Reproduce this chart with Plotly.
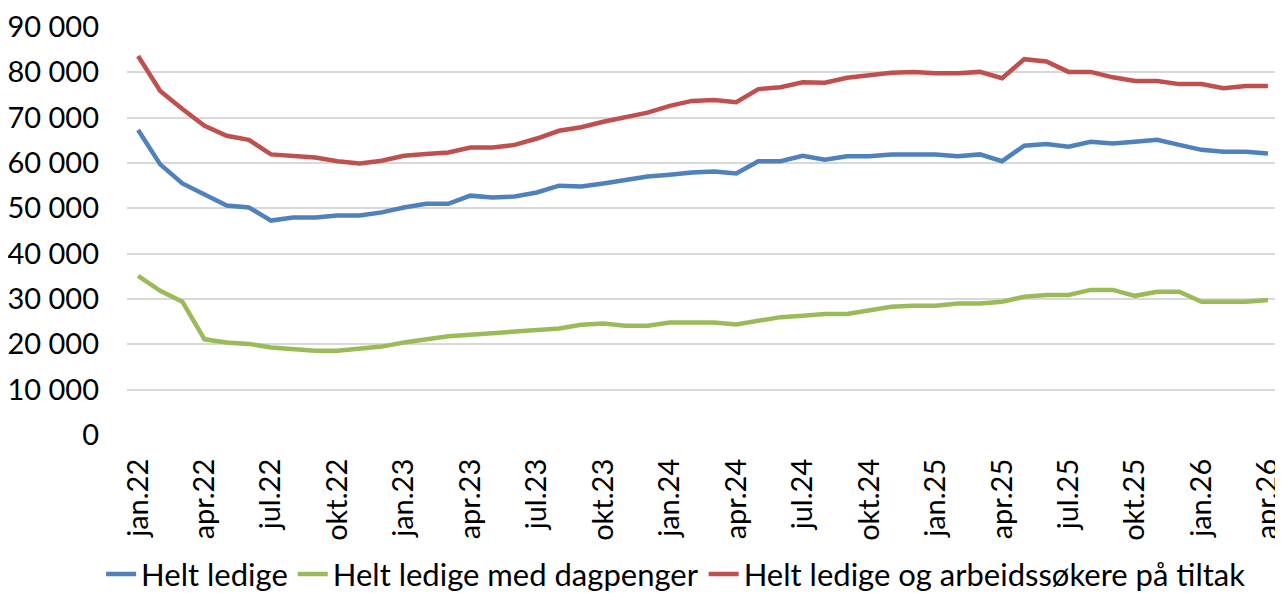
import plotly.graph_objects as go

month_abbr = ["jan", "feb", "mar", "apr", "mai", "jun", "jul", "aug", "sep", "okt", "nov", "des"]
months = [f"{month_abbr[m]}.{y:02d}" for y in range(22, 27) for m in range(12)][:52]

helt_ledige = [
    67300, 59700, 55500, 53100, 50600, 50200, 47300, 48000, 48000, 48400,
    48400, 49100, 50200, 51000, 51000, 52800, 52400, 52600, 53500, 55000,
    54800, 55500, 56300, 57000, 57400, 57900, 58100, 57700, 60400, 60400,
    61600, 60700, 61500, 61500, 61900, 61900, 61900, 61500, 61900, 60400,
    63800, 64200, 63600, 64700, 64300, 64700, 65100, 64000, 62900, 62500,
    62500, 62100,
]
dagpenger = [
    35100, 31800, 29400, 21100, 20400, 20100, 19300, 19000, 18600, 18600,
    19100, 19500, 20400, 21100, 21800, 22100, 22400, 22800, 23200, 23500,
    24300, 24600, 24100, 24100, 24800, 24800, 24800, 24400, 25200, 26000,
    26300, 26700, 26700, 27600, 28300, 28500, 28500, 29000, 29000, 29400,
    30500, 30900, 30900, 32000, 32000, 30700, 31600, 31600, 29400, 29400,
    29400, 29800,
]
tiltak = [
    83600, 75900, 71900, 68200, 66000, 65100, 61900, 61500, 61200, 60400,
    59900, 60500, 61600, 62000, 62300, 63400, 63400, 64000, 65400, 67100,
    67900, 69100, 70200, 71100, 72600, 73700, 73900, 73400, 76300, 76700,
    77800, 77700, 78800, 79300, 79900, 80100, 79800, 79800, 80100, 78700,
    82900, 82400, 80100, 80100, 78900, 78100, 78100, 77400, 77400, 76500,
    77000, 77000,
]

series_names = ["Helt ledige", "Helt ledige med dagpenger", "Helt ledige og arbeidssøkere på tiltak"]
series_colors = ["#4F81BD", "#9BBB59", "#C0504D"]

y_ticks = list(range(0, 90001, 10000))
y_labels = [f"{v:,}".replace(",", " ") for v in y_ticks]
x_ticks = months[::3]

FONT = "Lato"

fig = go.Figure()
for name, vals, col in zip(series_names, [helt_ledige, dagpenger, tiltak], series_colors):
    fig.add_trace(go.Scatter(
        x=months, y=vals, name=name, mode="lines",
        line=dict(color=col, width=4.5),
    ))

# page body has an 8px margin, so the figure is drawn 8px smaller
fig.update_layout(
    width=1275, height=585,
    margin=dict(l=119, r=4, t=19, b=158, autoexpand=False),
    paper_bgcolor="white", plot_bgcolor="white",
    font=dict(family=FONT, size=29, color="black"),
    showlegend=True,
    legend=dict(
        orientation="h", xref="container", x=0.524, xanchor="center",
        yref="container", y=0.032, yanchor="middle",
        font=dict(family=FONT, size=31, color="black"),
        itemwidth=30, tracegroupgap=0,
    ),
)
fig.update_xaxes(
    type="category", range=[-0.5, 51.5], automargin=False,
    tickmode="array", tickvals=x_ticks, ticktext=x_ticks,
    tickangle=-90, showgrid=False, showline=False, zeroline=False,
    ticks="", ticklabelstandoff=17,
    tickfont=dict(family=FONT, size=29, color="black"),
)
fig.update_yaxes(
    range=[0, 90000], automargin=False,
    tickmode="array", tickvals=y_ticks, ticktext=y_labels,
    showgrid=True, gridcolor="#D9D9D9", gridwidth=1.5,
    zeroline=False, showline=False, ticks="", ticklabelstandoff=27,
    tickfont=dict(family=FONT, size=29, color="black"),
)

fig.write_html("out.html")
